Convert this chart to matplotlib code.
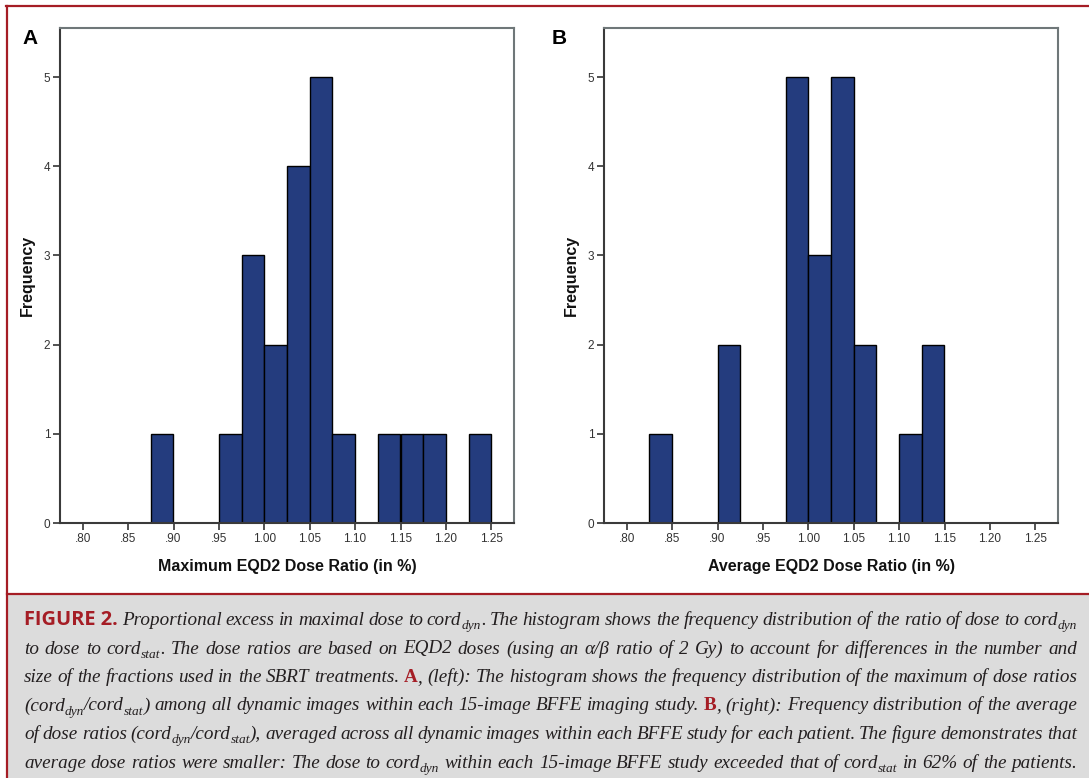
import re
import matplotlib
matplotlib.use('Agg')
import matplotlib.pyplot as plt
from matplotlib.patches import Rectangle
from matplotlib.lines import Line2D

W, H = 1089, 778
red = '#a51d25'
bar_color = '#243c7e'

# histogram data (bin left edges, counts), bin width .025
bin_width = 0.025
max_left = [0.875, 0.950, 0.975, 1.000, 1.025, 1.050, 1.075, 1.125, 1.150, 1.175, 1.225]
max_count = [1, 1, 3, 2, 4, 5, 1, 1, 1, 1, 1]
avg_left = [0.825, 0.900, 0.975, 1.000, 1.025, 1.050, 1.100, 1.125]
avg_count = [1, 2, 5, 3, 5, 2, 1, 2]

xticks = [0.80, 0.85, 0.90, 0.95, 1.00, 1.05, 1.10, 1.15, 1.20, 1.25]
xtick_labels = ['.80', '.85', '.90', '.95', '1.00', '1.05', '1.10', '1.15', '1.20', '1.25']
yticks = [0, 1, 2, 3, 4, 5]

panels = [('A', 'Maximum EQD2 Dose Ratio (in %)', max_left, max_count, 60, 22),
          ('B', 'Average EQD2 Dose Ratio (in %)', avg_left, avg_count, 604, 552)]

# caption: _{..} subscript, *..* red bold, <..> figure tag (~ = space)
caption = [
    "<FIGURE~2.> Proportional excess in maximal dose to cord_{dyn}. The histogram shows the frequency distribution of the ratio of dose to cord_{dyn}",
    "to dose to cord_{stat}. The dose ratios are based on EQD2 doses (using an \u03b1/\u03b2 ratio of 2 Gy) to account for differences in the number and",
    "size of the fractions used in the SBRT treatments. *A*, (left): The histogram shows the frequency distribution of the maximum of dose ratios",
    "(cord_{dyn}/cord_{stat}) among all dynamic images within each 15-image BFFE imaging study. *B*, (right): Frequency distribution of the average",
    "of dose ratios (cord_{dyn}/cord_{stat}), averaged across all dynamic images within each BFFE study for each patient. The figure demonstrates that",
    "average dose ratios were smaller: The dose to cord_{dyn} within each 15-image BFFE study exceeded that of cord_{stat} in 62% of the patients.",
]


def fx(px):
    return px / W


def fy(py):
    return 1 - py / H


fig = plt.figure(figsize=(W / 100, H / 100), dpi=100)

# frame and caption box
fig.add_artist(Rectangle((fx(8), 0), 1, fy(595), transform=fig.transFigure,
                         facecolor='#dcdcdc', edgecolor='none'))
lw = 1.6
fig.add_artist(Line2D([fx(6), 1], [fy(6), fy(6)], color=red, lw=lw))
fig.add_artist(Line2D([fx(7), fx(7)], [0, fy(6)], color=red, lw=lw))
fig.add_artist(Line2D([fx(7), 1], [fy(594), fy(594)], color=red, lw=lw))

for tag, xlabel, left, count, x0, tx in panels:
    ax = fig.add_axes([fx(x0), fy(523), 454 / W, 495 / H])
    ax.bar(left, count, width=bin_width, align='edge', color=bar_color,
           edgecolor='black', linewidth=1.0)
    ax.set_xlim(0.775, 1.275)
    ax.set_ylim(0, 5.55)
    ax.set_xticks(xticks)
    ax.set_xticklabels(xtick_labels)
    ax.set_yticks(yticks)
    ax.tick_params(direction='out', length=5, width=1.2, colors='#333333',
                   labelsize=8.5, pad=2)
    for lab in ax.get_xticklabels() + ax.get_yticklabels():
        lab.set_family('Liberation Sans')
    for s in ['left', 'bottom']:
        ax.spines[s].set_color('#3a3a3a')
        ax.spines[s].set_linewidth(1.5)
    for s in ['top', 'right']:
        ax.spines[s].set_color('#6f7779')
        ax.spines[s].set_linewidth(1.5)
    ax.set_xlabel(xlabel, fontsize=11.5, weight='bold', family='Liberation Sans',
                  color='#111111')
    ax.xaxis.set_label_coords(0.5, -0.073)
    ax.set_ylabel('Frequency', fontsize=11.5, weight='bold', family='Liberation Sans',
                  color='#111111')
    ax.yaxis.set_label_coords(-0.056, 0.5)
    fig.text(fx(tx), fy(44), tag, fontsize=15, weight='bold', family='Liberation Sans',
             ha='left', va='baseline')

# caption text, justified line by line
renderer = fig.canvas.get_renderer()
cap_left, cap_right = 24, 1077
baselines = [625, 653.5, 682, 710.5, 739, 767.5]


def parse(tok):
    out = []
    for part in re.split(r'(_\{[^}]*\}|\*[^*]*\*|<[^>]*>)', tok):
        if not part:
            continue
        if part[0] == '_':
            out.append((part[2:-1], 's'))
        elif part[0] == '*':
            out.append((part[1:-1], 'r'))
        elif part[0] == '<':
            out.append((part[1:-1].replace('~', ' '), 'f'))
        else:
            out.append((part, 'i'))
    return out


def style_kw(st, size):
    if st == 'i':
        return dict(family='Liberation Serif', style='italic', size=size, color='#231f20')
    if st == 's':
        return dict(family='Liberation Serif', style='italic', size=size * 0.7, color='#231f20')
    if st == 'r':
        return dict(family='Liberation Serif', weight='bold', size=size, color=red)
    return dict(family='Open Sans', weight='bold', size=size * 1.05, color=red)


def build(line, size):
    toks = []
    for tok in line.split(' '):
        toks.append([(fig.text(0, 0, txt, va='baseline', ha='left', **style_kw(st, size)), st)
                     for txt, st in parse(tok)])
    return toks


def tok_width(objs):
    return sum(t.get_window_extent(renderer).width for t, st in objs)


base = 15.0
natural = []
for line in caption:
    toks = build(line, base)
    w = sum(tok_width(o) for o in toks) + (len(toks) - 1) * base * 100 / 72 * 0.2
    natural.append(w)
    for o in toks:
        for t, st in o:
            t.remove()
size = base * min(1.0, (cap_right - cap_left) / max(natural))

for line, yb in zip(caption, baselines):
    toks = build(line, size)
    widths = [tok_width(o) for o in toks]
    gap = (cap_right - cap_left - sum(widths)) / (len(toks) - 1)
    x = cap_left
    for objs, w in zip(toks, widths):
        for t, st in objs:
            dy = size * 100 / 72 * 0.22 if st == 's' else 0
            t.set_position((fx(x), fy(yb + dy)))
            x += t.get_window_extent(renderer).width
        x += gap

fig.savefig('out.png', dpi=100)
